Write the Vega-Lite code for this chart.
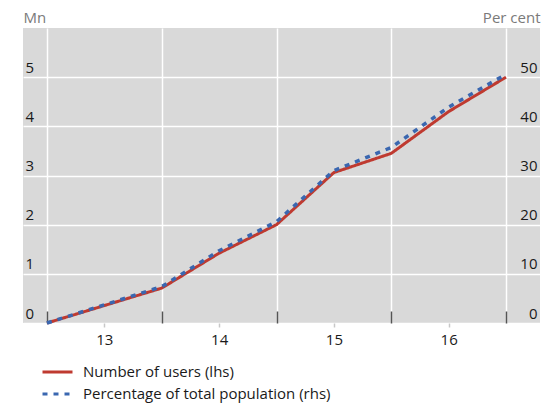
{
  "$schema": "https://vega.github.io/schema/vega-lite/v6.json",
  "width": 517,
  "height": 295,
  "autosize": "none",
  "padding": {"left": 23, "top": 28, "right": 4, "bottom": 80},
  "background": "white",
  "config": {
    "view": {"fill": "#d9d9d9", "stroke": null},
    "font": "Open Sans",
    "axis": {"labelFont": "Open Sans", "labelFontSize": 15, "labelColor": "#1a1a1a", "titleFont": "Open Sans", "titleFontSize": 15, "titleFontWeight": "normal", "titleColor": "#7a7a7a", "domain": false},
    "legend": {"labelFont": "Open Sans", "labelFontSize": 15, "labelColor": "#1a1a1a", "labelLimit": 0}
  },
  "data": {
    "values": [
      {"t": 2013.0, "series": "Number of users (lhs)", "value": 0},
      {"t": 2014.0, "series": "Number of users (lhs)", "value": 0.71},
      {"t": 2014.5, "series": "Number of users (lhs)", "value": 1.42},
      {"t": 2015.0, "series": "Number of users (lhs)", "value": 2.0},
      {"t": 2015.5, "series": "Number of users (lhs)", "value": 3.06},
      {"t": 2016.0, "series": "Number of users (lhs)", "value": 3.45},
      {"t": 2016.5, "series": "Number of users (lhs)", "value": 4.3},
      {"t": 2017.0, "series": "Number of users (lhs)", "value": 5.0},
      {"t": 2013.0, "series": "Percentage of total population (rhs)", "value": 0},
      {"t": 2014.0, "series": "Percentage of total population (rhs)", "value": 7.4},
      {"t": 2014.5, "series": "Percentage of total population (rhs)", "value": 14.7},
      {"t": 2015.0, "series": "Percentage of total population (rhs)", "value": 20.6},
      {"t": 2015.5, "series": "Percentage of total population (rhs)", "value": 31.0},
      {"t": 2016.0, "series": "Percentage of total population (rhs)", "value": 35.7},
      {"t": 2016.5, "series": "Percentage of total population (rhs)", "value": 43.9},
      {"t": 2017.0, "series": "Percentage of total population (rhs)", "value": 50.6}
    ]
  },
  "encoding": {
    "x": {
      "field": "t",
      "type": "quantitative",
      "scale": {"domain": [2012.791, 2017.296], "nice": false, "zero": false},
      "axis": {
        "title": null,
        "values": [2013, 2013.5, 2014, 2014.5, 2015, 2015.5, 2016, 2016.5, 2017],
        "labelExpr": "datum.value % 1 != 0 ? toString(floor(datum.value) - 2000) : ''",
        "labelFlush": false,
        "labelOverlap": false,
        "labelPadding": 5,
        "grid": true,
        "gridColor": {"condition": {"test": "datum.value % 1 == 0", "value": "#ffffff"}, "value": "transparent"},
        "gridWidth": 1.5,
        "ticks": true,
        "tickColor": {"condition": {"test": "datum.value % 1 == 0", "value": "#555555"}, "value": "#c8c8c8"},
        "tickSize": {"condition": {"test": "datum.value % 1 == 0", "value": -12}, "value": 4},
        "tickWidth": 1.5
      }
    },
    "color": {
      "field": "series",
      "type": "nominal",
      "scale": {"domain": ["Number of users (lhs)", "Percentage of total population (rhs)"], "range": ["#bf3a30", "#3a67b0"]},
      "legend": {"title": null, "orient": "none", "legendX": 18, "legendY": 333, "symbolType": "stroke", "symbolSize": 900, "symbolStrokeWidth": 3, "clipHeight": 22, "rowPadding": 0, "labelOffset": 9, "labelLimit": 0}
    },
    "strokeDash": {
      "field": "series",
      "type": "nominal",
      "scale": {"domain": ["Number of users (lhs)", "Percentage of total population (rhs)"], "range": [[1, 0], [5, 6]]},
      "legend": {"title": null, "orient": "none", "legendX": 18, "legendY": 333, "symbolType": "stroke", "symbolSize": 900, "symbolStrokeWidth": 3, "clipHeight": 22, "rowPadding": 0, "labelOffset": 9, "labelLimit": 0}
    }
  },
  "layer": [
    {
      "transform": [{"filter": "datum.series == 'Number of users (lhs)'"}],
      "mark": {"type": "line", "strokeWidth": 3},
      "encoding": {
        "y": {
          "field": "value",
          "type": "quantitative",
          "scale": {"domain": [0, 6], "nice": false},
          "axis": {
            "orient": "left",
            "title": "Mn",
            "titleAngle": 0,
            "titleAlign": "left",
            "titleBaseline": "alphabetic",
            "titleX": 0,
            "titleY": -6,
            "values": [0, 1, 2, 3, 4, 5],
            "ticks": false,
            "labelAlign": "left",
            "labelBaseline": "alphabetic",
            "labelPadding": -2,
            "labelOffset": -5,
            "labelOverlap": false,
            "grid": true,
            "gridColor": "#ffffff",
            "gridWidth": 1.5
          }
        }
      }
    },
    {
      "transform": [{"filter": "datum.series == 'Percentage of total population (rhs)'"}],
      "mark": {"type": "line", "strokeWidth": 3.5},
      "encoding": {
        "y": {
          "field": "value",
          "type": "quantitative",
          "scale": {"domain": [0, 60], "nice": false},
          "axis": {
            "orient": "right",
            "title": "Per cent",
            "titleAngle": 0,
            "titleAlign": "right",
            "titleBaseline": "alphabetic",
            "titleX": 0,
            "titleY": -6,
            "values": [0, 10, 20, 30, 40, 50],
            "ticks": false,
            "labelAlign": "right",
            "labelBaseline": "alphabetic",
            "labelPadding": -3,
            "labelOffset": -5,
            "labelOverlap": false,
            "grid": false
          }
        }
      }
    }
  ],
  "resolve": {"scale": {"y": "independent"}}
}
